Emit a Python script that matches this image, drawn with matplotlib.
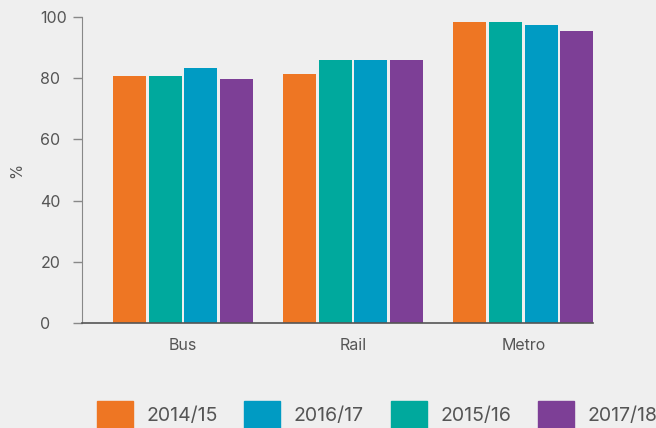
import numpy as np
import matplotlib.pyplot as plt
from matplotlib.patches import Patch

plt.rcParams['font.family'] = ['Inter', 'DejaVu Sans']

modes = ["Bus", "Rail", "Metro"]
years = ["2014/15", "2015/16", "2016/17", "2017/18"]
colors = ["#ee7623", "#00a99d", "#009bc3", "#7d3f96"]
values = {
    "2014/15": [80.7, 81.4, 98.4],
    "2015/16": [80.7, 85.9, 98.4],
    "2016/17": [83.3, 85.9, 97.4],
    "2017/18": [79.9, 85.9, 95.4],
}
legend_order = ["2014/15", "2016/17", "2015/16", "2017/18"]

BG = "#efefef"
TXT = "#555555"

fig = plt.figure(figsize=(6.56, 4.28), dpi=100, facecolor=BG)
ax = fig.add_axes([82/656, 1-323/428, (593-82)/656, (323-17)/428])
ax.set_facecolor(BG)

x = np.arange(len(modes))
step = 35.5/170
width = 33/170
for i, (yr, c) in enumerate(zip(years, colors)):
    ax.bar(x + (i-1.5)*step, values[yr], width, color=c, label=yr)

ax.set_xlim(-0.594, 2.41)
ax.set_ylim(0, 100)
ax.set_xticks(x)
ax.set_xticklabels(modes)
ax.set_yticks(range(0, 101, 20))

for s in ["top", "right"]:
    ax.spines[s].set_visible(False)
ax.spines["left"].set_color("#888888")
ax.spines["bottom"].set_color("#555555")
ax.spines["bottom"].set_linewidth(1.2)

ax.tick_params(axis="x", length=0, pad=11, labelsize=11.5, labelcolor=TXT)
ax.tick_params(axis="y", length=6.5, width=1, color="#888888", pad=23.5,
               labelsize=11.5, labelcolor=TXT)
for lab in ax.get_yticklabels():
    lab.set_ha("left")

fig.text(17/656, 1-170/428, "%", rotation=90, ha="center", va="center",
         fontsize=11, color=TXT)

handles = [Patch(color=colors[years.index(y)]) for y in legend_order]
fig.legend(handles, legend_order, loc="center left",
           bbox_to_anchor=(96.7/656, 1-415/428), ncol=4, frameon=False,
           borderpad=0, borderaxespad=0, handlelength=1.85, handleheight=1.85,
           handletextpad=0.69, columnspacing=1.39, fontsize=14,
           labelcolor=TXT)

fig.savefig("out.png", dpi=100, facecolor=BG)
